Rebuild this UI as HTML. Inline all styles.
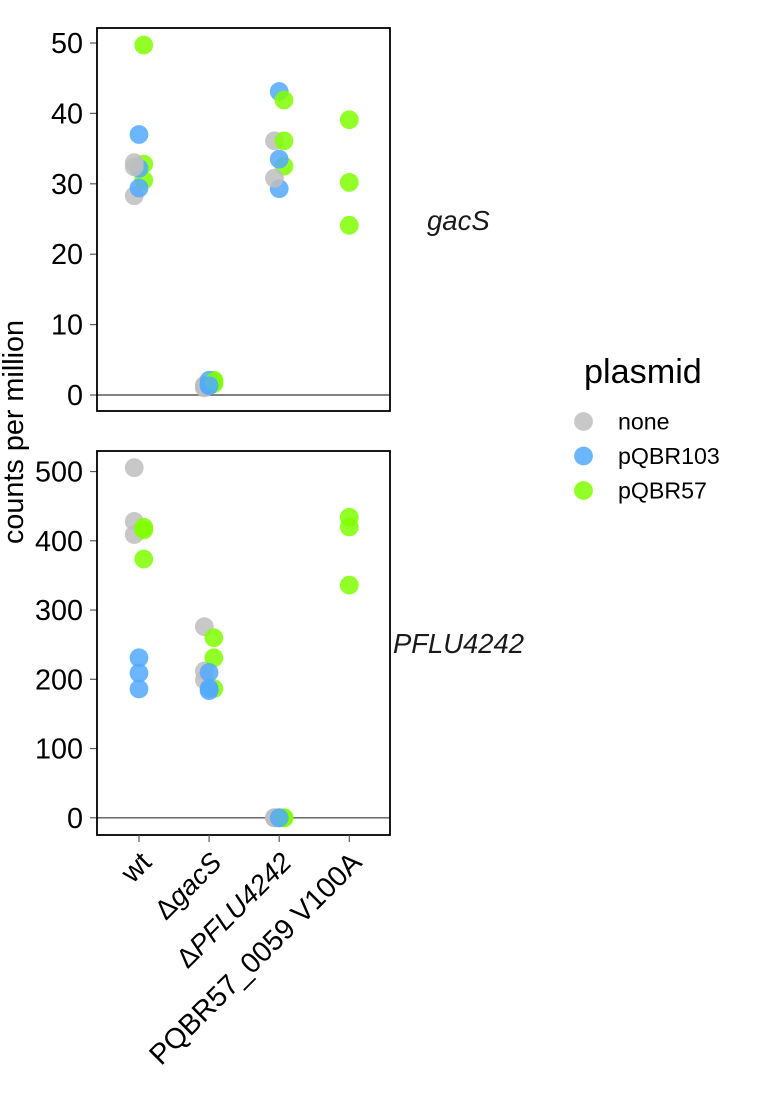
<!DOCTYPE html>
<html lang="en">
<head>
<meta charset="utf-8">
<title>Counts per million by genotype and plasmid</title>
<style>
html,body{margin:0;padding:0;background:#fff;width:761px;height:1107px;overflow:hidden}
svg{display:block;font-family:"Liberation Sans",sans-serif}
</style>
</head>
<body>
<svg id="chart" xmlns="http://www.w3.org/2000/svg" width="761" height="1107" viewBox="0 0 761 1107">
  <text transform="translate(23,432) rotate(-90)" text-anchor="middle" font-size="28.8" fill="#000">counts per million</text>
  <text x="427" y="230" font-size="27.5" font-style="italic" fill="#1a1a1a">gacS</text>
  <text x="393" y="653" font-size="27.4" font-style="italic" fill="#1a1a1a">PFLU4242</text>
  <g>
    <text x="584" y="383" font-size="34.2" fill="#000">plasmid</text>
    <circle cx="583.5" cy="421.5" r="9.4" fill="#bebebe" fill-opacity="0.85"/>
    <text x="618" y="429.5" font-size="23.2" fill="#000">none</text>
    <circle cx="583.5" cy="456" r="9.4" fill="#52a9ff" fill-opacity="0.85"/>
    <text x="618" y="464" font-size="23.2" fill="#000">pQBR103</text>
    <circle cx="583.5" cy="490.5" r="9.4" fill="#7fff00" fill-opacity="0.85"/>
    <text x="618" y="498.5" font-size="23.2" fill="#000">pQBR57</text>
  </g>
  <g id="plot"></g>
</svg>
<script>
// Shared categories
var categories = ['wt', 'gacS', 'PFLU4242', 'PQBR57_0059 V100A'];
var plasmids = ['none', 'pQBR103', 'pQBR57'];
var plasmidColors = ['#bebebe', '#52a9ff', '#7fff00'];

// gacS panel observations, in draw order
var gacsCategory = [0,0,0,0,0,0,0,0,0, 1,1,1,1,1,1,1,1,1, 2,2,2,2,2,2,2,2, 3,3,3];
var gacsPlasmid  = [0,2,2,1,1,0,0,1,2, 0,0,0,2,2,1,1,2,1, 1,2,0,2,2,1,1,0, 2,2,2];
var gacsValues   = [28.3,32.8,30.5,37.0,32.2,33.0,32.4,29.4,49.7,
                    1.0,1.2,1.4,2.1,1.6,2.1,1.5,1.9,1.3,
                    43.1,41.9,36.1,36.1,32.5,33.5,29.3,30.8,
                    39.1,30.2,24.1];
var gacsTicks = [0, 10, 20, 30, 40, 50];

// PFLU4242 panel observations, in draw order
var pfluCategory = [0,0,0,2,0,0,0,0,0,0, 1,1,1,1,1,1,1,1,1, 2,2,2,2,2,2, 3,3,3];
var pfluPlasmid  = [0,0,0,1,2,2,2,1,1,1, 0,0,0,2,2,2,1,1,1, 0,0,0,2,2,1, 2,2,2];
var pfluValues   = [505.6,428,409,0,419.5,415.6,373.7,231,209,186,
                    276,212,199,260,231,186.5,210,187,183.5,
                    0,0,0,0,0,0,
                    434,420,336];
var pfluTicks = [0, 100, 200, 300, 400, 500];

var NS = 'http://www.w3.org/2000/svg';
var plot = document.getElementById('plot');
var PANEL_LEFT = 97, PANEL_RIGHT = 390;

function xCategory(i) { return 139 + i * 70.1; }
// The last genotype only has one plasmid group, so it is not dodged.
function xDodge(c, p) { return c === 3 ? 0 : (p - 1) * 4.75; }
function yGacs(v) { return 395 - v * 7.04; }
function yPflu(v) { return 817.8 - v * 0.6925; }

function make(tag, attrs, parent) {
  var el = document.createElementNS(NS, tag);
  for (var k in attrs) { el.setAttribute(k, attrs[k]); }
  parent.appendChild(el);
  return el;
}

function drawPanel(key, top, bottom, yFn, ticks, cats, plas, vals) {
  var g = make('g', {}, plot);
  
  

  var zero = make('line', { x1: PANEL_LEFT, x2: PANEL_RIGHT, y1: yFn(0), y2: yFn(0), stroke: '#5a5a5a', 'stroke-width': 1.4 }, g);
  
  

  ticks.forEach(function (t) {
    var mark = make('line', { x1: PANEL_LEFT - 7, x2: PANEL_LEFT, y1: yFn(t), y2: yFn(t), stroke: '#5a5a5a', 'stroke-width': 1.2 }, g);
    
    
    var label = make('text', { x: 83, y: yFn(t) + 10, 'text-anchor': 'end', 'font-size': 28.8, fill: '#000' }, g);
    
    
    label.textContent = t;
  });

  vals.forEach(function (v, i) {
    var p = plas[i];
    var dot = make('circle', {
      cx: xCategory(cats[i]) + xDodge(cats[i], p), cy: yFn(v), r: 9.4,
      fill: plasmidColors[p], 'fill-opacity': 0.85
    }, g);
    
    
  });

  var frame = make('rect', { x: PANEL_LEFT, y: top, width: PANEL_RIGHT - PANEL_LEFT, height: bottom - top, fill: 'none', stroke: '#000', 'stroke-width': 1.8 }, g);
  
  
}

drawPanel('gacs', 28, 411, yGacs, gacsTicks, gacsCategory, gacsPlasmid, gacsValues);
drawPanel('pflu4242', 451, 835, yPflu, pfluTicks, pfluCategory, pfluPlasmid, pfluValues);

// X axis ticks and rotated labels (gene names in italics after a Delta)
var xPrefix = ['', '\u0394', '\u0394', ''];
var xItalic = [false, true, true, false];
categories.forEach(function (c, i) {
  var x = xCategory(i);
  var tick = make('line', { x1: x, x2: x, y1: 835, y2: 842, stroke: '#5a5a5a', 'stroke-width': 1.2 }, plot);
  
  
  var label = make('text', { transform: 'translate(' + (x + 14) + ',864) rotate(-45)', 'text-anchor': 'end', 'font-size': xItalic[i] ? 27.4 : 28.6, fill: '#000' }, plot);
  
  
  if (xPrefix[i]) {
    var pre = make('tspan', {}, label);
    pre.textContent = xPrefix[i];
  }
  var main = make('tspan', xItalic[i] ? { 'font-style': 'italic' } : {}, label);
  main.textContent = c;
});
</script>
</body>
</html>
